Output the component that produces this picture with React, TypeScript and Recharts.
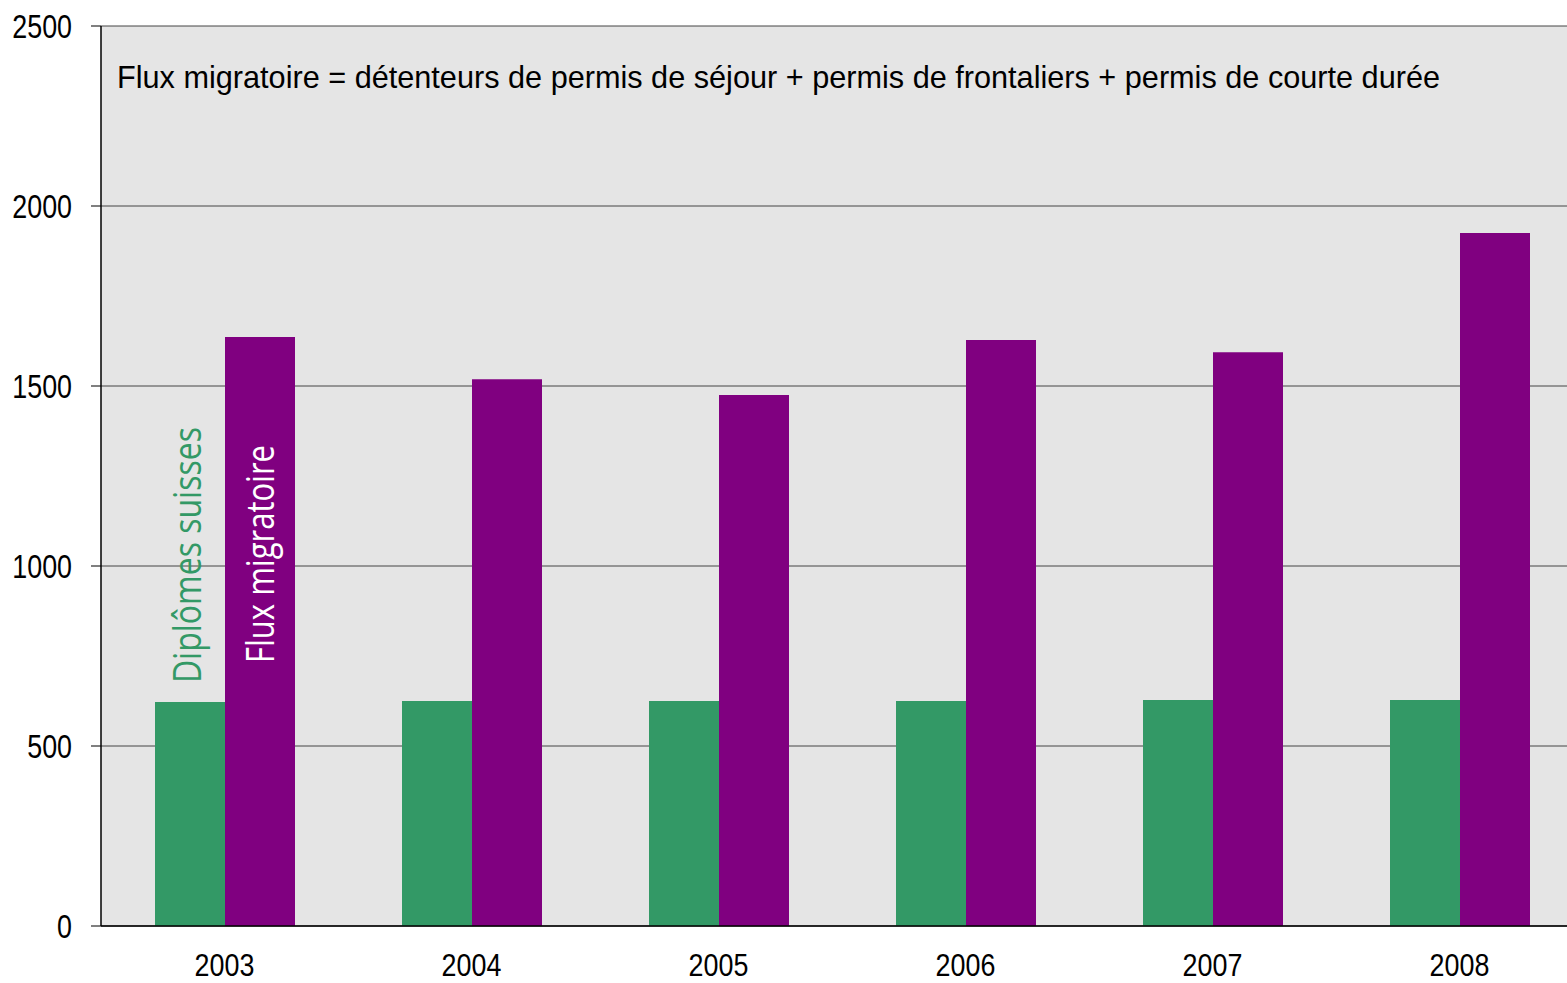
import React from "react"
import { Bar, BarChart, CartesianGrid, XAxis, YAxis } from "recharts"

const years = ["2003", "2004", "2005", "2006", "2007", "2008"]
const diplomesSuisses = [622, 625, 625, 625, 628, 628]
const fluxMigratoire = [1636, 1519, 1475, 1628, 1594, 1925]
const yTicks = [0, 500, 1000, 1500, 2000, 2500]

const data = years.map((year, i) => ({
  year,
  diplomes: diplomesSuisses[i],
  flux: fluxMigratoire[i],
}))

const FONT = '"Liberation Sans", Arial, sans-serif'
const LABEL_FONT = '"Open Sans", "Noto Sans", sans-serif'

// condensed look: squeeze the glyphs horizontally around the anchor
const YTick = ({ x, y, payload }: any) => (
  <g transform={`translate(${x},${y}) scale(0.79,1)`}>
    <text x={0} y={0} dy="0.36em" textAnchor="end" fill="#000" fontSize={34} fontFamily={FONT}>
      {payload.value}
    </text>
  </g>
)

const XTick = ({ x, y, payload }: any) => (
  <g transform={`translate(${x},${y}) scale(0.84,1)`}>
    <text x={0} y={0} dy="0.71em" textAnchor="middle" fill="#000" fontSize={32} fontFamily={FONT}>
      {payload.value}
    </text>
  </g>
)

const greenLabel = (props: any) => {
  if (props.index !== 0) return null
  const { x, y, width } = props
  const tx = x + width * 0.66
  const ty = y - 19
  return (
    <text x={tx} y={ty} transform={`rotate(-90, ${tx}, ${ty})`} fill="#339966" fontSize={38} fontFamily={LABEL_FONT} textLength={256} lengthAdjust="spacingAndGlyphs" textAnchor="start">
      Diplômes suisses
    </text>
  )
}

const purpleLabel = (props: any) => {
  if (props.index !== 0) return null
  const { x, y, width, height } = props
  const tx = x + width * 0.7
  const ty = y + height - 263
  return (
    <text x={tx} y={ty} transform={`rotate(-90, ${tx}, ${ty})`} fill="#ffffff" fontSize={38} fontFamily={LABEL_FONT} textLength={218} lengthAdjust="spacingAndGlyphs" textAnchor="start">
      Flux migratoire
    </text>
  )
}

export default function App() {
  return (
    <div style={{ position: "absolute", left: 0, top: 0, width: 1567, height: 983, overflow: "hidden", background: "#fff" }}>
      <BarChart
        width={1590}
        height={983}
        data={data}
        barGap={0}
        barSize={70}
        margin={{ top: 26, right: 7, left: 0, bottom: 0 }}
      >
        <CartesianGrid vertical={false} fill="#e5e5e5" stroke="#444444" strokeWidth={1} />
        <XAxis
          dataKey="year"
          height={57}
          tickLine={false}
          tickSize={0}
          tickMargin={27}
          axisLine={{ stroke: "#000", strokeWidth: 1.5 }}
          tick={<XTick />}
        />
        <YAxis
          width={101}
          domain={[0, 2500]}
          ticks={yTicks}
          interval={0}
          tickSize={10}
          tickMargin={19}
          tickLine={{ stroke: "#000" }}
          axisLine={{ stroke: "#000", strokeWidth: 1.5 }}
          tick={<YTick />}
        />
        <Bar dataKey="diplomes" fill="#339966" isAnimationActive={false} label={greenLabel} />
        <Bar dataKey="flux" fill="#800080" isAnimationActive={false} label={purpleLabel} />
      </BarChart>
      <svg width={1567} height={120} style={{ position: "absolute", left: 0, top: 0, pointerEvents: "none" }}>
        <text x={117} y={88} fontSize={32} fontFamily={FONT} fill="#000" textLength={1323} lengthAdjust="spacingAndGlyphs">
          Flux migratoire = détenteurs de permis de séjour + permis de frontaliers + permis de courte durée
        </text>
      </svg>
    </div>
  )
}
